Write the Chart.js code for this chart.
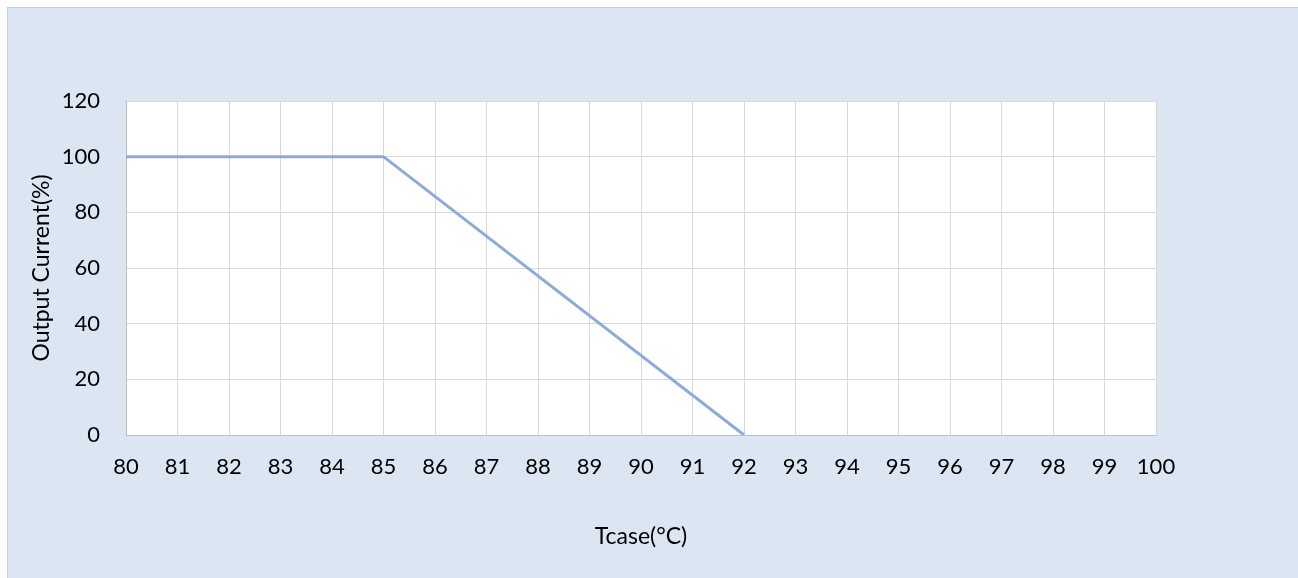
<!DOCTYPE html>
<html>
<head>
<meta charset="utf-8">
<script src="https://cdn.jsdelivr.net/npm/chart.js@4"></script>
<style>
  html, body { margin: 0; padding: 0; background: #ffffff; }
  #frame {
    position: absolute; left: 7px; top: 7px; width: 1291px; height: 571px;
    background: #dce6f2; border-top: 1px solid #c4d2e4; border-left: 1px solid #c4d2e4;
    box-sizing: border-box;
  }
  #wrap { position: absolute; left: 0; top: 0; width: 1290px; height: 570px; }
</style>
</head>
<body>
<div id="frame"><div id="wrap"><canvas id="c" width="1290" height="570"></canvas></div></div>
<script>
// Derating curve: case temperature vs. allowed output current
const caseTemps = [80, 85, 92];
const outputCurrent = [100, 100, 0];
const xTickValues = [80, 81, 82, 83, 84, 85, 86, 87, 88, 89, 90, 91, 92, 93, 94, 95, 96, 97, 98, 99, 100];
const yTickValues = [0, 20, 40, 60, 80, 100, 120];
const xTitle = 'Tcase(°C)';
const yTitle = 'Output Current(%)';

const points = caseTemps.map((t, i) => ({ x: t, y: outputCurrent[i] }));
const fontFamily = 'Lato, "Open Sans", sans-serif';

// White fill behind the plotting area
const plotBackground = {
  id: 'plotBackground',
  beforeDraw(chart) {
    const { ctx, chartArea: a } = chart;
    ctx.save();
    ctx.fillStyle = '#ffffff';
    ctx.fillRect(a.left, a.top, a.right - a.left, a.bottom - a.top);
    ctx.restore();
  }
};

new Chart(document.getElementById('c'), {
  type: 'line',
  data: {
    datasets: [{
      data: points,
      borderColor: '#8eabd8',
      borderWidth: 3,
      pointRadius: 0,
      fill: false,
      tension: 0
    }]
  },
  options: {
    responsive: false,
    animation: false,
    layout: { padding: { top: 93, right: 142, bottom: 0, left: 0 } },
    plugins: { legend: { display: false }, tooltip: { enabled: false } },
    scales: {
      x: {
        type: 'linear',
        min: xTickValues[0],
        max: xTickValues[xTickValues.length - 1],
        afterBuildTicks: s => { s.ticks = xTickValues.map(v => ({ value: v })); },
        afterFit: s => { s.height = 143; },
        grid: { color: '#d9d9d9', drawTicks: false, lineWidth: 1 },
        border: { color: '#bfbfbf', width: 1 },
        ticks: { color: '#000000', padding: 19, maxRotation: 0, autoSkip: false,
                 font: { family: fontFamily, size: 22 } },
        title: { display: true, text: xTitle, color: '#000000',
                 font: { family: fontFamily, size: 23 }, padding: { top: 0, bottom: 28 } }
      },
      y: {
        min: yTickValues[0],
        max: yTickValues[yTickValues.length - 1],
        afterBuildTicks: s => { s.ticks = yTickValues.map(v => ({ value: v })); },
        afterFit: s => { s.width = 118; },
        grid: { color: '#d9d9d9', drawTicks: false, lineWidth: 1 },
        border: { color: '#bfbfbf', width: 1 },
        ticks: { color: '#000000', padding: 26,
                 font: { family: fontFamily, size: 22 } },
        title: { display: true, text: yTitle, color: '#000000',
                 font: { family: fontFamily, size: 23 }, padding: { top: 20, bottom: 0 } }
      }
    }
  },
  plugins: [plotBackground]
});
</script>
</body>
</html>
